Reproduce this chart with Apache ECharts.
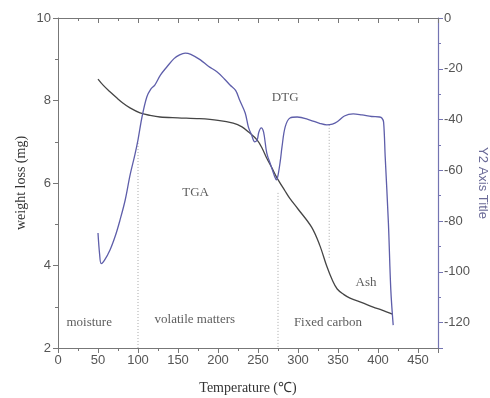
<!DOCTYPE html>
<html>
<head>
<meta charset="utf-8">
<script src="https://cdn.jsdelivr.net/npm/echarts@6/dist/echarts.min.js"></script>
<style>
  html, body { margin: 0; padding: 0; background: #fff; }
  #chart { width: 490px; height: 398px; }
</style>
</head>
<body>
<div id="chart"></div>
<script>
// tick labels
const xTicks = [0, 50, 100, 150, 200, 250, 300, 350, 400, 450]
const yLeftTicks = [2, 4, 6, 8, 10]
const yRightTicks = [0, -20, -40, -60, -80, -100, -120]

// TGA: temperature (°C) vs weight (mg), left axis
const tgaTemp = [50, 57, 65, 73, 81, 90, 102.5, 115, 127.5, 150, 177, 200, 219, 230, 238, 249, 255, 261, 267, 273, 284, 290, 300, 317, 327, 336, 343, 349, 357, 365, 380, 394, 405, 418]
const tgaWeight = [8.52, 8.36, 8.21, 8.07, 7.94, 7.82, 7.70, 7.64, 7.60, 7.58, 7.56, 7.52, 7.45, 7.36, 7.24, 7.04, 6.85, 6.6, 6.38, 6.15, 5.8, 5.62, 5.37, 4.93, 4.5, 3.98, 3.64, 3.43, 3.3, 3.21, 3.1, 2.99, 2.92, 2.82]

// DTG: temperature (°C) vs rate, right axis
const dtgTemp = [50, 52, 54, 58, 65, 72, 77.5, 84, 90, 96, 100, 105, 111, 116, 121, 128, 136, 145, 152, 159, 166, 178, 188, 199, 208, 215, 222, 227, 234, 238, 242, 246, 249, 251, 254, 257, 261, 266, 271, 273, 275, 278, 280, 284, 290, 299, 315, 327, 336, 343, 349, 358, 369, 380, 392, 402, 405, 407, 409, 413, 416, 419]
const dtgRate = [-84.7, -93, -96.8, -95.5, -91.4, -85.5, -79.6, -71.7, -62, -54, -48, -39, -31.1, -28, -26.4, -22.5, -19.3, -16, -14.5, -13.8, -14.3, -16.5, -19, -21.3, -24, -26.4, -28.5, -32.3, -37.4, -43, -46.1, -48.8, -48, -45, -43.3, -45, -53.2, -58, -62.6, -63.8, -62, -56, -50.8, -42.9, -39.4, -39.0, -40.2, -41.5, -42.1, -41.8, -40.9, -38.6, -37.8, -38.2, -38.8, -39.0, -39.5, -41, -54.7, -80.7, -107, -121]

// stage boundaries (dotted guides): temperature, top weight, bottom weight
const guideTemp = [100, 275, 339]
const guideTop = [6.97, 5.76, 7.41]
const guideBottom = [2, 2, 4.18]

// text notes
const noteText = ['TGA', 'DTG', 'moisture', 'volatile matters', 'Fixed carbon', 'Ash']
const noteTemp = [172, 284, 39, 171, 337.5, 385]
const noteWeight = [5.76, 8.06, 2.61, 2.68, 2.61, 3.58]

const zip = (a, b) => a.map((v, i) => [v, b[i]])

const axisGray = '#777'
const labelStyle = { color: '#555', fontSize: 13, fontFamily: 'Liberation Sans' }
const nameStyle = { color: '#333', fontSize: 14, fontFamily: 'Liberation Serif' }

const chart = echarts.init(document.getElementById('chart'))

const guideSeries = guideTemp.map((t, i) => ({
  type: 'line',
  data: [[t, guideTop[i]], [t, guideBottom[i]]],
  symbol: 'none', silent: true,
  lineStyle: { color: '#aaa', width: 1, type: [1, 2] },
  z: 1
}))

chart.setOption({
  animation: false,
  grid: { left: 58, right: 52, top: 18, bottom: 50, outerBoundsMode: 'none', containLabel: false },
  xAxis: [{
    type: 'value', position: 'bottom',
    min: 0, max: 475, interval: 50,
    name: 'Temperature (\u2103)', nameLocation: 'middle', nameGap: 33, nameMoveOverlap: false,
    nameTextStyle: nameStyle,
    axisLine: { onZero: false, lineStyle: { color: axisGray } },
    axisTick: { inside: false, length: 5, lineStyle: { color: axisGray } },
    minorTick: { show: true, splitNumber: 2, length: 3, lineStyle: { color: axisGray } },
    axisLabel: { ...labelStyle, margin: 6, formatter: v => xTicks.includes(v) ? String(v) : '' },
    splitLine: { show: false }
  }, {
    type: 'value', position: 'top',
    min: 0, max: 475, interval: 50,
    axisLine: { onZero: false, lineStyle: { color: axisGray } },
    axisTick: { inside: true, length: 5, lineStyle: { color: axisGray } },
    minorTick: { show: true, splitNumber: 2, length: 3, lineStyle: { color: axisGray } },
    axisLabel: { show: false },
    splitLine: { show: false }
  }],
  yAxis: [{
    type: 'value', position: 'left',
    min: 2, max: 10, interval: 2,
    name: 'weight loss (mg)', nameLocation: 'middle', nameGap: 30, nameMoveOverlap: false,
    nameTextStyle: nameStyle,
    axisLine: { show: true, onZero: false, lineStyle: { color: axisGray } },
    axisTick: { show: true, length: 5, lineStyle: { color: axisGray } },
    minorTick: { show: true, splitNumber: 2, length: 3, lineStyle: { color: axisGray } },
    axisLabel: { ...labelStyle, margin: 7, formatter: v => yLeftTicks.includes(v) ? String(v) : '' },
    splitLine: { show: false }
  }, {
    type: 'value', position: 'right',
    min: -130, max: 0, splitNumber: 6,
    name: 'Y2 Axis Title', nameLocation: 'middle', nameGap: 38, nameRotate: -90, nameMoveOverlap: false,
    nameTextStyle: { ...labelStyle, color: '#6b6b98' },
    axisLine: { show: true, onZero: false, lineStyle: { color: '#7474b2', width: 1.2 } },
    axisTick: { show: true, length: 5, lineStyle: { color: '#7474b2' } },
    minorTick: { show: true, splitNumber: 2, length: 3, lineStyle: { color: '#7474b2' } },
    axisLabel: { ...labelStyle, margin: 6, formatter: v => yRightTicks.includes(v) ? String(v) : '' },
    splitLine: { show: false }
  }],
  series: [
    ...guideSeries,
    {
      name: 'TGA', type: 'line',
      data: zip(tgaTemp, tgaWeight),
      yAxisIndex: 0,
      symbol: 'none', smooth: 0.35,
      lineStyle: { color: '#454545', width: 1.3 },
      z: 3
    },
    {
      name: 'DTG', type: 'line',
      data: zip(dtgTemp, dtgRate),
      yAxisIndex: 1,
      symbol: 'none', smooth: 0.35,
      lineStyle: { color: '#5e5eaa', width: 1.3 },
      z: 4
    },
    {
      type: 'scatter',
      data: noteText.map((t, i) => ({ name: t, value: [noteTemp[i], noteWeight[i]] })),
      symbolSize: 0, silent: true,
      label: {
        show: true, position: 'inside',
        formatter: p => p.name,
        color: '#333', fontSize: 13, fontFamily: 'Liberation Serif'
      },
      z: 5
    }
  ]
})
</script>
</body>
</html>
